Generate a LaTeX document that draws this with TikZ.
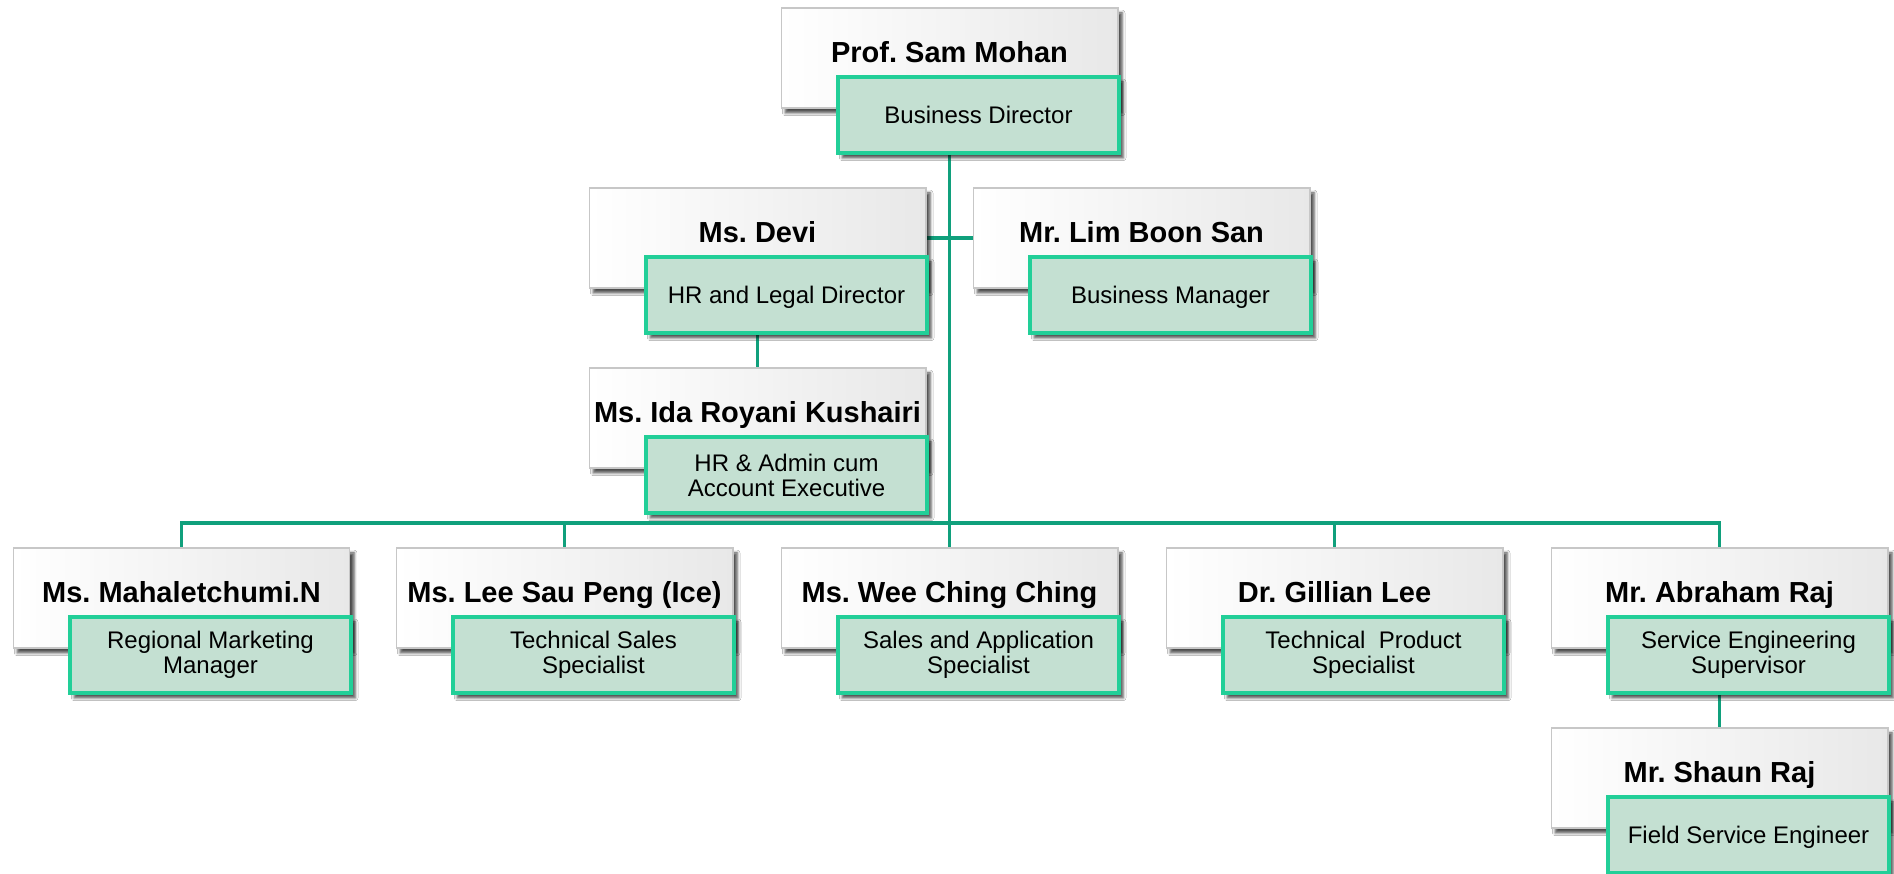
\documentclass[tikz,border=0pt]{standalone}
\usepackage{fontspec}
\setmainfont{Liberation Sans}
\usetikzlibrary{shadows.blur,backgrounds,calc}
\definecolor{connc}{HTML}{10A07C}
\definecolor{gborder}{HTML}{22CF98}
\definecolor{gfill}{HTML}{C4E0D2}
\frenchspacing
\tikzset{
  boxshadow/.style={blur shadow={shadow xshift=2.4pt, shadow yshift=-2.8pt, shadow blur radius=1.6pt, shadow opacity=70}},
  namebox/.style={draw=black!22, line width=0.6pt, left color=white, right color=black!9,
    minimum width=6.74cm, minimum height=2cm, inner sep=0pt, outer sep=0pt,
    font=\fontsize{16.5}{19}\selectfont\bfseries, text height=8pt, text depth=2.42pt, boxshadow},
  rolebox/.style={draw=gborder, line width=1.8pt, fill=gfill,
    minimum width=5.62cm, minimum height=1.52cm, inner sep=0pt, outer sep=0pt, align=center,
    font=\fontsize{13.66}{14.23}\selectfont, boxshadow},
  roleone/.style={rolebox, text height=9.8pt, text depth=0pt},
  connline/.style={draw=connc, line width=1.9pt}
}
\newcommand\orgperson[6]{%
  \node[namebox] (#1) at (#2,#3) {#4};
  \node[#6] (#1r) at ($(#1.center)+(29,57)$) {#5};}
\begin{document}
\begin{tikzpicture}[x=0.02cm, y=-0.02cm]
\useasboundingbox (0,0) rectangle (1894,874);
\orgperson{mohan}{949.5}{58}{Prof. Sam Mohan}{Business Director}{roleone}
\orgperson{devi}{757.5}{238}{Ms. Devi}{HR and Legal Director}{roleone}
\orgperson{lim}{1141.5}{238}{Mr. Lim Boon San}{Business Manager}{roleone}
\orgperson{ida}{757.5}{418}{Ms. Ida Royani Kushairi}{HR \& Admin cum\\Account Executive}{rolebox}
\orgperson{maha}{181.5}{598}{Ms. Mahaletchumi.N}{Regional Marketing\\Manager}{rolebox}
\orgperson{lee}{564.5}{598}{Ms. Lee Sau Peng (Ice)}{Technical Sales\\Specialist}{rolebox}
\orgperson{wee}{949.5}{598}{Ms. Wee Ching Ching}{Sales and Application\\Specialist}{rolebox}
\orgperson{gillian}{1334.5}{598}{Dr. Gillian Lee}{Technical\ \ Product\\Specialist}{rolebox}
\orgperson{abraham}{1719.5}{598}{Mr. Abraham Raj}{Service Engineering\\Supervisor}{rolebox}
\orgperson{shaun}{1719.5}{778}{Mr. Shaun Raj}{Field Service Engineer}{roleone}
\coordinate (bus) at (949.5,523);
\begin{scope}[on background layer]
  \fill[white] (0,0) rectangle (1894,874);
  \draw[connline] (mohan) -- (wee);
  \draw[connline] (bus) -| (maha);
  \draw[connline] (bus) -| (lee);
  \draw[connline] (bus) -| (gillian);
  \draw[connline] (bus) -| (abraham);
  \draw[connline] (devi) -- (lim);
  \draw[connline] (devi) -- (ida);
  \draw[connline] (abraham) -- (shaun);
\end{scope}
\end{tikzpicture}
\end{document}
